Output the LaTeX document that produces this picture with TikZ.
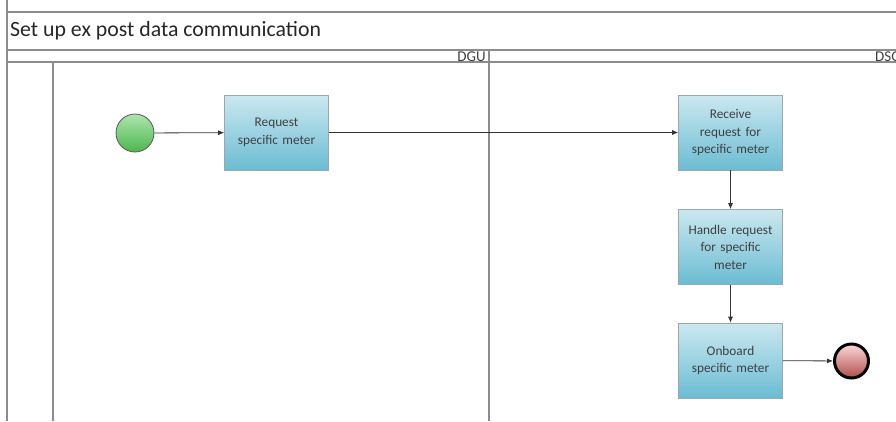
\documentclass[tikz,border=0pt]{standalone}
\usepackage{fontspec}
\setmainfont{Carlito}
\usetikzlibrary{arrows.meta,shadows}
\definecolor{lanegray}{HTML}{8C8C8C}
\definecolor{txtgray}{HTML}{404040}
\definecolor{boxtop}{HTML}{CBE8F0}
\definecolor{boxbot}{HTML}{6BBCD2}
\definecolor{boxedge}{HTML}{9AA8AD}
\tikzset{
  lane/.style={draw=lanegray, line width=1.2pt},
  task/.style={draw=boxedge, line width=0.6pt, top color=boxtop, bottom color=boxbot,
    minimum width=103pt, minimum height=75pt, align=center, text=txtgray,
    font=\fontsize{13.3}{17.5}\selectfont, inner sep=2pt, text width=100pt},
  startev/.style={circle, draw=gray!70!black, line width=0.8pt, top color=green!25!white!90!black, bottom color=green!60!black!70, minimum size=38pt, inner sep=0pt},
  endev/.style={circle, draw=black, line width=3pt, top color=red!15!white, bottom color=red!55!black!70, minimum size=34pt, inner sep=0pt},
  flow/.style={draw=black!80, line width=0.8pt, -{Latex[length=6pt,width=5pt]}},
  hdr/.style={font=\fontsize{15}{17}\selectfont, text=txtgray, anchor=east, inner sep=1pt}
}
\begin{document}
\begin{tikzpicture}[x=1pt,y=-1pt]
\useasboundingbox (0,0) rectangle (896,421);
% pool frame
\draw[lane] (7,0) -- (7,421);
\draw[lane] (7,12) -- (900,12);
\draw[lane] (7,50) -- (900,50);
\draw[lane] (7,62) -- (900,62);
\draw[lane] (53,62) -- (53,421);
\draw[lane] (489,50) -- (489,421);
\node[font=\fontsize{21.8}{25}\selectfont, anchor=west, text=black!85, inner sep=0pt] (title) at (10,31) {Set up ex post data communication};
\node[hdr] (dgu) at (487,56.5) {DGU};
\node[hdr, anchor=west] (dso) at (874,56.5) {DSO};
% events and tasks
\node[startev] (start) at (135,133) {};
\node[task] (req) at (276.5,132.5) {Request\\specific meter};
\node[task] (rec) at (730.5,132.5) {Receive\\request for\\specific meter};
\node[task] (hand) at (730.5,247) {Handle request\\for specific\\meter};
\node[task] (onb) at (730.5,360.5) {Onboard\\specific meter};
\node[endev] (end) at (851.5,361) {};
% flows
\draw[flow] (start) -- (req);
\draw[flow] (req) -- (rec);
\draw[flow] (rec) -- (hand);
\draw[flow] (hand) -- (onb);
\draw[flow] (onb) -- (end);
\end{tikzpicture}
\end{document}
